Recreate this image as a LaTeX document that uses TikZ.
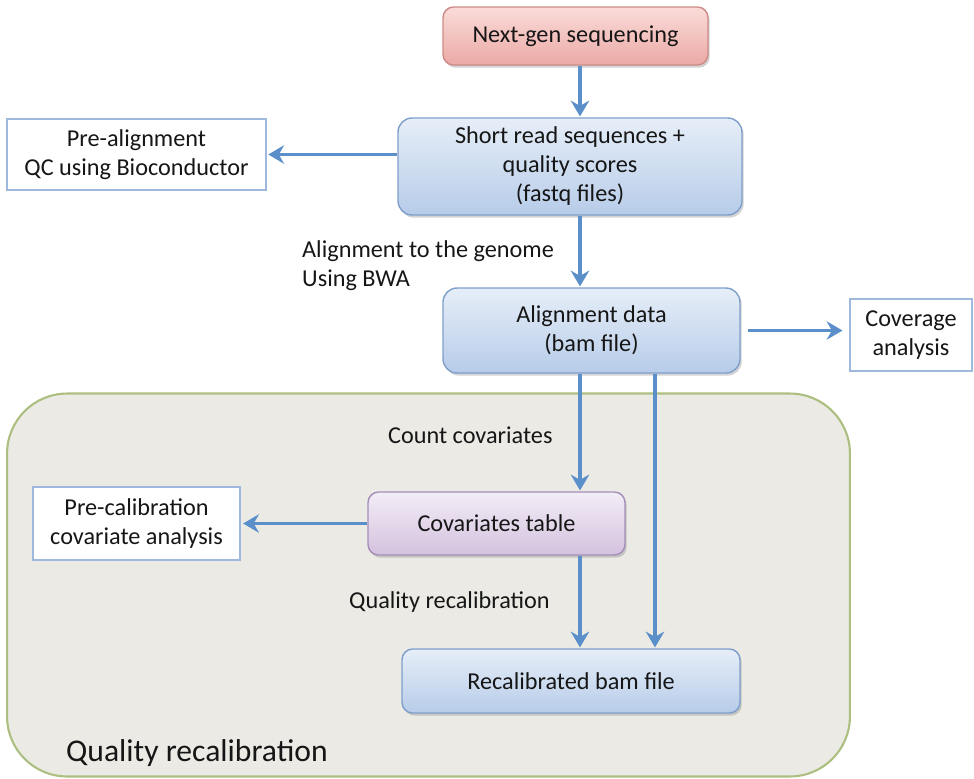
\documentclass[tikz,border=0pt]{standalone}
\usepackage{fontspec}
\setmainfont{Carlito}
\usepackage{tikz}
\usetikzlibrary{arrows.meta}
\usetikzlibrary{shadows}
\definecolor{flowblue}{HTML}{5B8FC9}
\definecolor{boxtop}{HTML}{E6EEF8}
\definecolor{boxbot}{HTML}{B7CCE9}
\definecolor{boxline}{HTML}{7F9FCB}
\definecolor{pinktop}{HTML}{FADCD9}
\definecolor{pinkbot}{HTML}{EBA9A5}
\definecolor{pinkline}{HTML}{CD8A86}
\definecolor{lilactop}{HTML}{F3EDF6}
\definecolor{lilacbot}{HTML}{D3C1DE}
\definecolor{lilacline}{HTML}{A58DB9}
\definecolor{panelfill}{HTML}{EBEAE5}
\definecolor{panelline}{HTML}{ADBF80}
\definecolor{noteline}{HTML}{9EB9DD}
\definecolor{inktext}{HTML}{161616}
\newcommand{\boxfont}{\fontsize{13.8}{16.5}\selectfont\color{inktext}}
\tikzset{stage/.style={rectangle,rounded corners=6pt,draw=boxline,line width=0.8pt,top color=boxtop,bottom color=boxbot,drop shadow={opacity=0.35,shadow xshift=1pt,shadow yshift=-1.5pt},align=center,font=\boxfont,inner sep=2pt}}
\tikzset{note/.style={rectangle,draw=noteline,fill=white,line width=0.6pt,align=center,font=\boxfont}}
\tikzset{flow/.style={draw=flowblue,line width=2.1pt,-{Stealth[length=9pt,width=10.5pt,inset=3pt]}}}

\begin{document}
\begin{tikzpicture}[x=0.02cm,y=-0.02cm]
\useasboundingbox (0,0) rectangle (974,778);
% recalibration panel
\node[rectangle,rounded corners=1.2cm,draw=panelline,fill=panelfill,line width=1.2pt,minimum width=16.86cm,minimum height=7.66cm] (qbox) at (428.5,585) {};
\node[anchor=west,font=\fontsize{18}{21}\selectfont\color{inktext}] (qlabel) at (60,753) {Quality recalibration};
% main stages
\node[stage,top color=pinktop,bottom color=pinkbot,draw=pinkline,minimum width=5.3cm,minimum height=1.16cm] (ngs) at (575.5,36) {Next-gen sequencing};
\node[stage,rounded corners=8pt,minimum width=6.88cm,minimum height=1.94cm] (reads) at (570,166.5) {Short read sequences +\\quality scores\\(fastq files)};
\node[stage,rounded corners=8pt,minimum width=5.94cm,minimum height=1.7cm] (align) at (591.5,330.5) {Alignment data\\(bam file)};
\node[stage,top color=lilactop,bottom color=lilacbot,draw=lilacline,minimum width=5.14cm,minimum height=1.26cm] (covtab) at (496.5,523.5) {Covariates table};
\node[stage,minimum width=6.76cm,minimum height=1.28cm] (recal) at (571,681) {Recalibrated bam file};
% side analyses
\node[note,minimum width=5.18cm,minimum height=1.42cm] (qc) at (136.5,154.5) {Pre-alignment\\QC using Bioconductor};
\node[note,minimum width=2.44cm,minimum height=1.44cm] (cov) at (911,335) {Coverage\\analysis};
\node[note,minimum width=4.14cm,minimum height=1.46cm] (precal) at (136.5,523.5) {Pre-calibration\\covariate analysis};
% step labels
\node[anchor=west,align=left,font=\boxfont] (bwa) at (296,266) {Alignment to the genome\\Using BWA};
\node[anchor=west,font=\boxfont] (count) at (382,435) {Count covariates};
\node[anchor=west,font=\boxfont] (recalstep) at (343,602) {Quality recalibration};
% columns of the arrows
\coordinate (colA) at (580,0);
\coordinate (colB) at (655,0);
\foreach \a/\b in {ngs/reads,reads/align,align/covtab,covtab/recal} {
	\draw[flow,shorten >=0.5pt] (\a.south -| colA) -- (\b.north -| colA);
}
\draw[flow,shorten >=0.5pt] (align.south -| colB) -- (recal.north -| colB);
\draw[flow,shorten >=1pt] (reads.west |- qc.east) -- (qc.east);
\draw[flow,shorten <=4pt,shorten >=4pt] (align.east) -- (cov.west |- align.east);
\draw[flow,shorten >=1.5pt] (covtab.west) -- (precal.east |- covtab.west);
\end{tikzpicture}
\end{document}
